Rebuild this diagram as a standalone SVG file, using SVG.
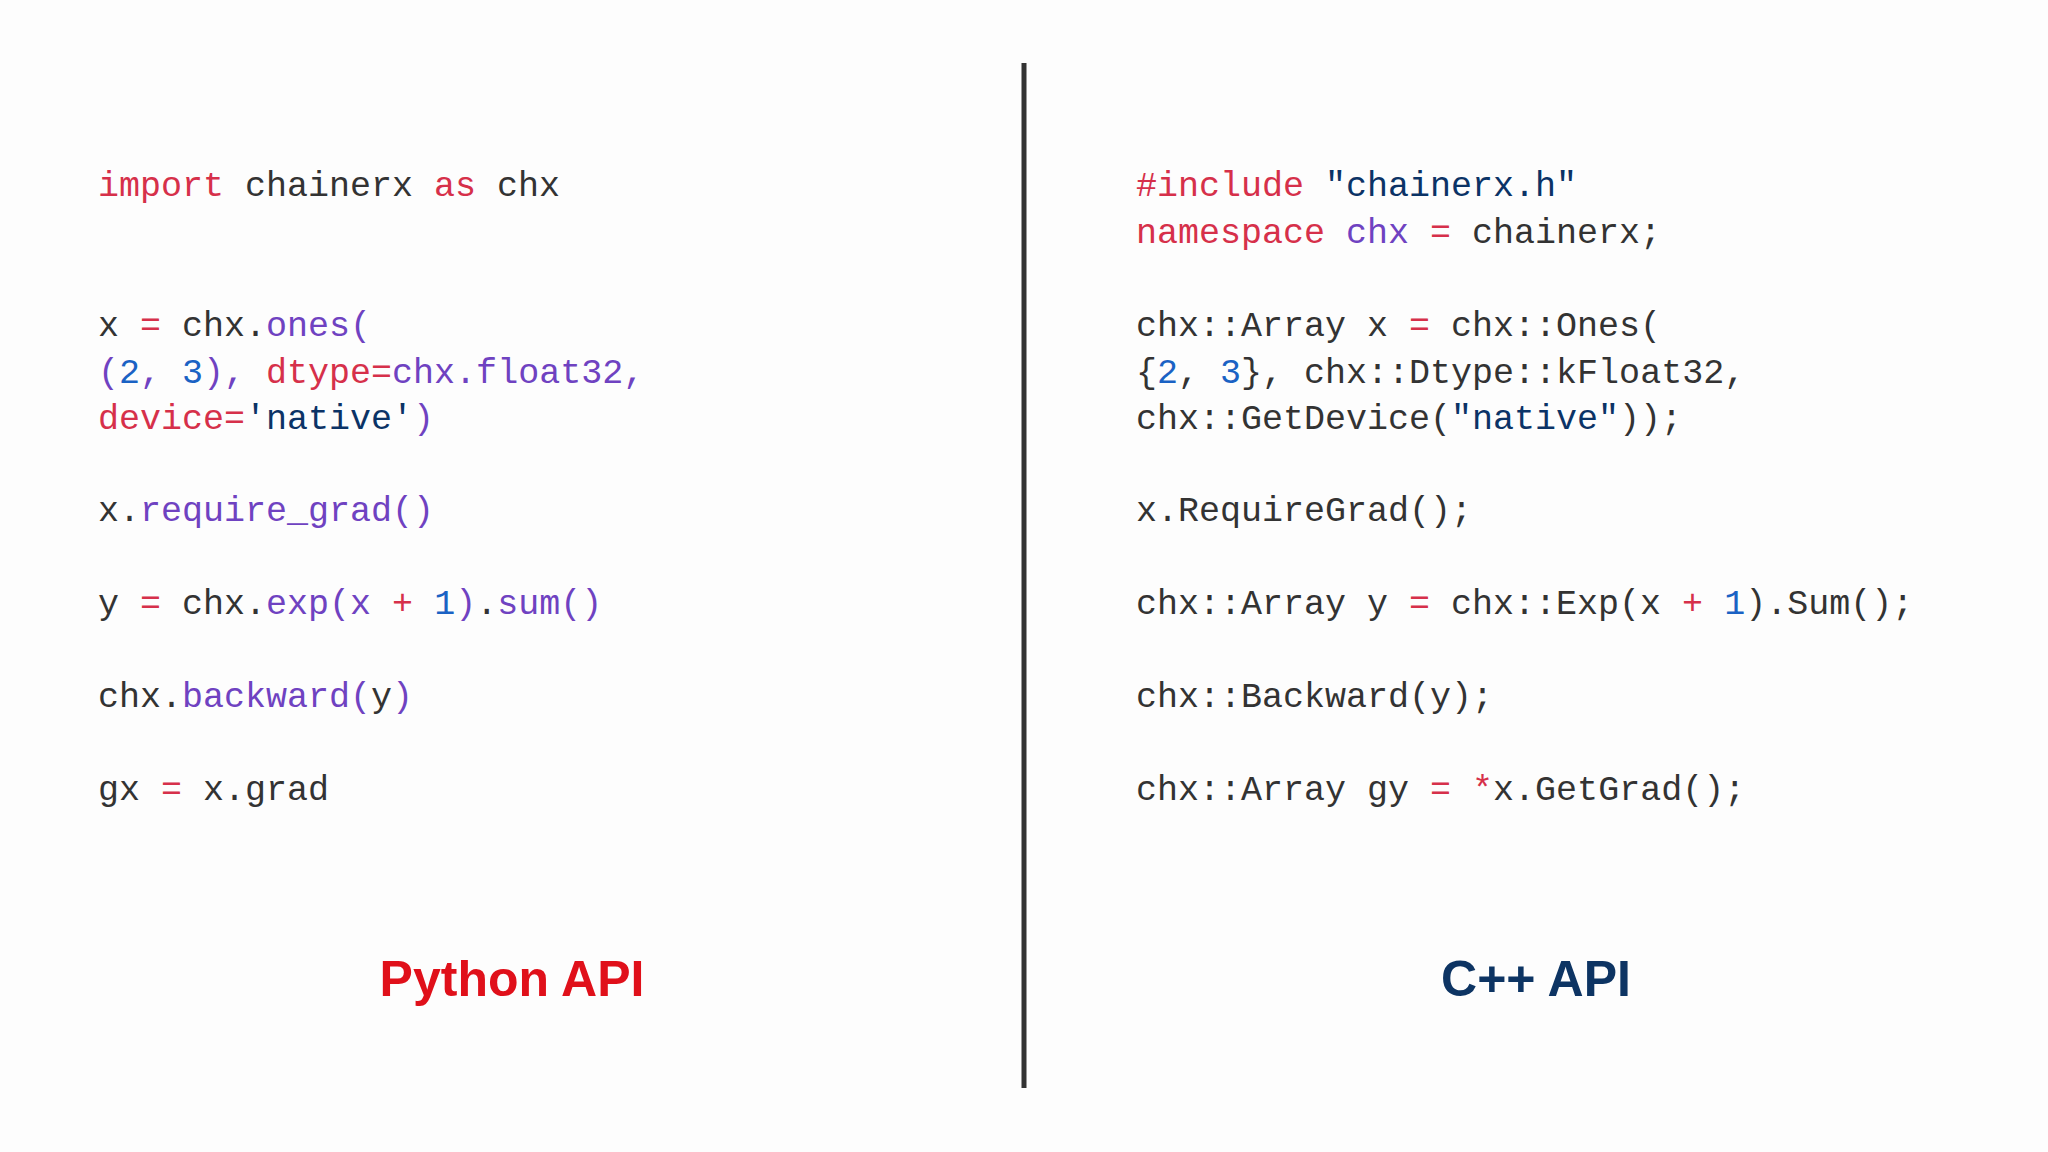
<svg xmlns="http://www.w3.org/2000/svg" width="2048" height="1152" viewBox="0 0 2048 1152">
<style>
.c{font-family:"Liberation Mono","DejaVu Sans Mono",monospace;font-size:35px;fill:#333;white-space:pre}
.k{fill:#d6304a}.f{fill:#6f42c1}.n{fill:#1a62c4}.s{fill:#0b3366}
.t{font-family:"Liberation Sans",Arial,sans-serif;font-weight:bold;font-size:50px;text-anchor:middle}
</style>
<rect width="2048" height="1152" fill="#fdfdfd"/>
<g id="divider"><line x1="1024" y1="63" x2="1024" y2="1088" stroke="#333" stroke-width="5"/></g>
<g id="python" class="c" xml:space="preserve">
<text x="98" y="196"><tspan class="k">import</tspan> chainerx <tspan class="k">as</tspan> chx</text>
<text x="98" y="336">x <tspan class="k">=</tspan> chx.<tspan class="f">ones(</tspan></text>
<text x="98" y="383">    <tspan class="f">(</tspan><tspan class="n">2</tspan><tspan class="f">, </tspan><tspan class="n">3</tspan><tspan class="f">), </tspan><tspan class="k">dtype=</tspan><tspan class="f">chx.float32,</tspan></text>
<text x="98" y="429">    <tspan class="k">device=</tspan><tspan class="s">'native'</tspan><tspan class="f">)</tspan></text>
<text x="98" y="521">x.<tspan class="f">require_grad()</tspan></text>
<text x="98" y="614">y <tspan class="k">=</tspan> chx.<tspan class="f">exp(x </tspan><tspan class="k">+</tspan> <tspan class="n">1</tspan><tspan class="f">)</tspan>.<tspan class="f">sum()</tspan></text>
<text x="98" y="707">chx.<tspan class="f">backward(</tspan>y<tspan class="f">)</tspan></text>
<text x="98" y="800">gx <tspan class="k">=</tspan> x.grad</text>
</g>
<g id="cpp" class="c" xml:space="preserve">
<text x="1136" y="196"><tspan class="k">#include</tspan> <tspan class="s">"chainerx.h"</tspan></text>
<text x="1136" y="243"><tspan class="k">namespace</tspan> <tspan class="f">chx</tspan> <tspan class="k">=</tspan> chainerx;</text>
<text x="1136" y="336">chx::Array x <tspan class="k">=</tspan> chx::Ones(</text>
<text x="1136" y="383">    {<tspan class="n">2</tspan>, <tspan class="n">3</tspan>}, chx::Dtype::kFloat32,</text>
<text x="1136" y="429">    chx::GetDevice(<tspan class="s">"native"</tspan>));</text>
<text x="1136" y="521">x.RequireGrad();</text>
<text x="1136" y="614">chx::Array y <tspan class="k">=</tspan> chx::Exp(x <tspan class="k">+</tspan> <tspan class="n">1</tspan>).Sum();</text>
<text x="1136" y="707">chx::Backward(y);</text>
<text x="1136" y="800">chx::Array gy <tspan class="k">=</tspan> <tspan class="k">*</tspan>x.GetGrad();</text>
</g>
<g id="title-python"><text class="t" x="512" y="996" fill="#e0101a">Python API</text></g>
<g id="title-cpp"><text class="t" x="1536" y="996" fill="#0d3463">C++ API</text></g>
</svg>
